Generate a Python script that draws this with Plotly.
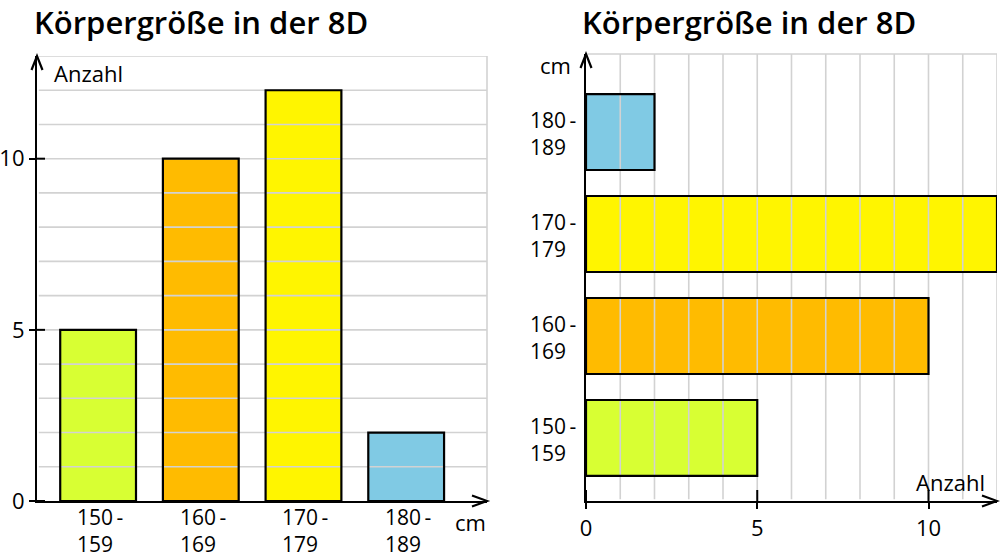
import plotly.graph_objects as go

# ---- data ----
categories = ["150-159", "160-169", "170-179", "180-189"]
cat_labels = ["150\u2009-<br>159", "160\u2009-<br>169", "170\u2009-<br>179", "180\u2009-<br>189"]
counts = [5, 10, 12, 2]
colors = ["#d8ff33", "#ffbb00", "#fff500", "#80cae4"]
count_ticks = [0, 5, 10]
title_text = "Körpergröße in der 8D"
count_label = "Anzahl"
unit_label = "cm"

idx = list(range(len(categories)))
FONT = "Open Sans"
GRID = "#d2d2d2"
BW_V = 0.738
BW_H = 0.745

fig = go.Figure()
fig.add_trace(go.Bar(x=idx, y=counts, width=BW_V, marker=dict(color=colors, line=dict(width=0)),
                     xaxis="x", yaxis="y", hoverinfo="skip", showlegend=False))
fig.add_trace(go.Bar(x=counts, y=idx, orientation="h", width=BW_H,
                     marker=dict(color=colors, line=dict(width=0)),
                     xaxis="x2", yaxis="y2", hoverinfo="skip", showlegend=False))

shapes = []
# left gridlines (above bar fills)
for v in range(1, 14):
    shapes.append(dict(type="line", xref="x domain", yref="y", x0=0.004, x1=1, y0=v, y1=v,
                       line=dict(color=GRID, width=1.6), layer="above"))
shapes.append(dict(type="line", xref="x domain", yref="y domain", x0=1, x1=1, y0=0.004, y1=1,
                   line=dict(color=GRID, width=1.6), layer="above"))
# right gridlines
for v in range(1, 13):
    shapes.append(dict(type="line", xref="x2", yref="y2 domain", x0=v, x1=v, y0=0.004, y1=1,
                       line=dict(color=GRID, width=1.6), layer="above"))
shapes.append(dict(type="line", xref="x2 domain", yref="y2 domain", x0=0.003, x1=1, y0=1, y1=1,
                   line=dict(color=GRID, width=1.6), layer="above"))

# bar outlines (from data)
for i, v in zip(idx, counts):
    shapes.append(dict(type="rect", xref="x", yref="y", x0=i - BW_V / 2, x1=i + BW_V / 2, y0=0, y1=v,
                       line=dict(color="black", width=2.2), fillcolor="rgba(0,0,0,0)", layer="above"))
    shapes.append(dict(type="rect", xref="x2", yref="y2", x0=0, x1=v, y0=i - BW_H / 2, y1=i + BW_H / 2,
                       line=dict(color="black", width=2.2), fillcolor="rgba(0,0,0,0)", layer="above"))

# inner parts of crossing ticks
for v in count_ticks:
    shapes.append(dict(type="line", xref="x domain", yref="y", xsizemode="pixel", xanchor=0,
                       x0=0, x1=8, y0=v, y1=v, line=dict(color="black", width=2), layer="above"))
    shapes.append(dict(type="line", xref="x2", yref="y2 domain", ysizemode="pixel", yanchor=0,
                       x0=v, x1=v, y0=0, y1=11, line=dict(color="black", width=2), layer="above"))

# arrow heads
arrow_line = dict(color="black", width=2.2)
shapes.append(dict(type="path", xref="x domain", yref="y domain", xsizemode="pixel", ysizemode="pixel",
                   xanchor=1, yanchor=0, path="M -15,5.5 L 0,0 L -15,-5.5", line=arrow_line, layer="above"))
shapes.append(dict(type="path", xref="x domain", yref="y domain", xsizemode="pixel", ysizemode="pixel",
                   xanchor=0, yanchor=1, path="M -5.5,-14 L 0,0 L 5.5,-14", line=arrow_line, layer="above"))
shapes.append(dict(type="path", xref="x2 domain", yref="y2 domain", xsizemode="pixel", ysizemode="pixel",
                   xanchor=1, yanchor=0, path="M -15,5.5 L 0,0 L -15,-5.5", line=arrow_line, layer="above"))
shapes.append(dict(type="path", xref="x2 domain", yref="y2 domain", xsizemode="pixel", ysizemode="pixel",
                   xanchor=0, yanchor=1, path="M -5.5,-14 L 0,0 L 5.5,-14", line=arrow_line, layer="above"))

LS = 22
lab_font = dict(family=FONT, size=LS, color="black")
cat_font = dict(family=FONT, size=21, color="black")
title_font = dict(family=FONT, size=31, color="black", weight=600)
H = 560.0
ann = []
for xt in (32, 580):
    ann.append(dict(text=title_text, xref="paper", yref="paper", x=xt / 1000, y=1 - 22 / H,
                    xanchor="left", yanchor="middle", showarrow=False, font=title_font))
ann.append(dict(text=count_label, xref="paper", yref="paper", x=52 / 1000, y=1 - 73 / H,
                xanchor="left", yanchor="middle", showarrow=False, font=lab_font))
ann.append(dict(text=unit_label, xref="paper", yref="paper", x=488 / 1000, y=1 - 522 / H,
                xanchor="right", yanchor="middle", showarrow=False, font=lab_font))
ann.append(dict(text=unit_label, xref="paper", yref="paper", x=573 / 1000, y=1 - 65 / H,
                xanchor="right", yanchor="middle", showarrow=False, font=lab_font))
ann.append(dict(text=count_label, xref="paper", yref="paper", x=987 / 1000, y=1 - 482 / H,
                xanchor="right", yanchor="middle", showarrow=False, font=lab_font))
for i, t in zip(idx, cat_labels):
    # left chart: two-line labels below x axis, lines left aligned
    ann.append(dict(text=t, xref="x", yref="paper", x=i, xshift=-23,
                    y=1 - 530 / H, xanchor="left", yanchor="middle", align="left",
                    showarrow=False, font=cat_font))
    # right chart: labels left of y axis
    ann.append(dict(text=t, xref="paper", yref="y2", x=528 / 1000, y=i, yshift=-1.5,
                    xanchor="left", yanchor="middle", align="left",
                    showarrow=False, font=cat_font))

axis_common = dict(showgrid=False, zeroline=False, showline=True, linecolor="black", linewidth=2.2,
                   tickfont=lab_font, fixedrange=True)

fig.update_layout(
    width=1000, height=560, margin=dict(l=0, r=0, t=0, b=0, autoexpand=False),
    paper_bgcolor="white", plot_bgcolor="white",
    font=dict(family=FONT, color="black"),
    xaxis=dict(domain=[0.037, 0.487], range=[-0.595, 3.787], showticklabels=False, ticks="",
               anchor="y", **axis_common),
    yaxis=dict(domain=[1 - 501 / H, 1 - 56 / H], range=[0, 13], tickvals=count_ticks,
               ticks="outside", ticklen=6, tickwidth=2, tickcolor="black", anchor="x", **axis_common),
    xaxis2=dict(domain=[0.586, 0.997], range=[0, 12], tickvals=count_ticks,
                ticks="outside", ticklen=6, tickwidth=2, tickcolor="black", anchor="y2", **axis_common),
    yaxis2=dict(domain=[1 - 501 / H, 1 - 54 / H], range=[-0.618, 3.765], showticklabels=False,
                ticks="", anchor="x2", **axis_common),
    shapes=shapes, annotations=ann, bargap=0,
)

fig.write_html("out.html")
